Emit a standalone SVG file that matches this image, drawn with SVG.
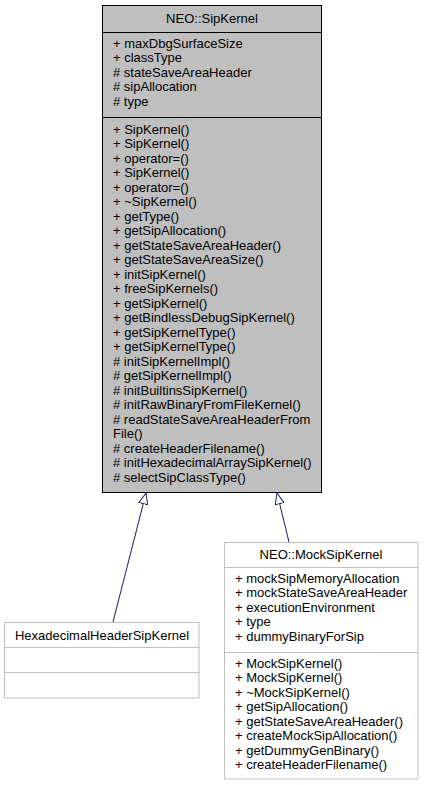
<svg xmlns="http://www.w3.org/2000/svg" width="424" height="785" viewBox="0 0 424 785">
<style>
text{font-family:"Liberation Sans",Arial,sans-serif;font-size:13px;fill:#000}
.c{text-anchor:middle}
.base rect{fill:#bfbfbf;stroke:#000;stroke-width:1}
.base line{stroke:#000;stroke-width:1}
.sub rect{fill:#fff;stroke:#bfbfbf;stroke-width:1}
.sub line{stroke:#bfbfbf;stroke-width:1}
.edge{stroke:#191970;stroke-width:1;fill:none}
</style>
<defs>
<marker id="inh" viewBox="0 0 12 10" refX="11.5" refY="5" markerWidth="12" markerHeight="10" markerUnits="userSpaceOnUse" orient="auto">
<path d="M0.5,0.5 L11.5,5 L0.5,9.5 Z" fill="#fff" stroke="#191970" stroke-width="1"/>
</marker>
</defs>
<rect width="424" height="785" fill="#fff"/>
<g id="connectors">
<line class="edge" x1="113" y1="622" x2="146" y2="493" marker-end="url(#inh)"/>
<line class="edge" x1="289" y1="542" x2="277" y2="493" marker-end="url(#inh)"/>
</g>
<g id="node-SipKernel" class="base">
<rect x="102.5" y="5.5" width="219" height="487"/>
<line x1="102.5" y1="32.5" x2="321.5" y2="32.5"/>
<line x1="102.5" y1="117.5" x2="321.5" y2="117.5"/>
<text class="c" x="212" y="23">NEO::SipKernel</text>
<text x="113" y="47.5">+ maxDbgSurfaceSize</text>
<text x="113" y="62">+ classType</text>
<text x="113" y="76.5"># stateSaveAreaHeader</text>
<text x="113" y="91"># sipAllocation</text>
<text x="113" y="105.5"># type</text>
<text x="113" y="133.5">+ SipKernel()</text>
<text x="113" y="148">+ SipKernel()</text>
<text x="113" y="162.5">+ operator=()</text>
<text x="113" y="177">+ SipKernel()</text>
<text x="113" y="191.5">+ operator=()</text>
<text x="113" y="206">+ ~SipKernel()</text>
<text x="113" y="220.5">+ getType()</text>
<text x="113" y="235">+ getSipAllocation()</text>
<text x="113" y="249.5">+ getStateSaveAreaHeader()</text>
<text x="113" y="264">+ getStateSaveAreaSize()</text>
<text x="113" y="278.5">+ initSipKernel()</text>
<text x="113" y="293">+ freeSipKernels()</text>
<text x="113" y="307.5">+ getSipKernel()</text>
<text x="113" y="322">+ getBindlessDebugSipKernel()</text>
<text x="113" y="336.5">+ getSipKernelType()</text>
<text x="113" y="351">+ getSipKernelType()</text>
<text x="113" y="365.5"># initSipKernelImpl()</text>
<text x="113" y="380"># getSipKernelImpl()</text>
<text x="113" y="394.5"># initBuiltinsSipKernel()</text>
<text x="113" y="409"># initRawBinaryFromFileKernel()</text>
<text x="113" y="423.5"># readStateSaveAreaHeaderFrom</text>
<text x="113" y="438">File()</text>
<text x="113" y="452.5"># createHeaderFilename()</text>
<text x="113" y="467"># initHexadecimalArraySipKernel()</text>
<text x="113" y="481.5"># selectSipClassType()</text>
</g>
<g id="node-HexadecimalHeaderSipKernel" class="sub">
<rect x="4.5" y="622.5" width="194.5" height="75.5"/>
<line x1="4.5" y1="647.5" x2="199" y2="647.5"/>
<line x1="4.5" y1="672.5" x2="199" y2="672.5"/>
<text class="c" x="102" y="639.5">HexadecimalHeaderSipKernel</text>
</g>
<g id="node-MockSipKernel" class="sub">
<rect x="224.5" y="542.5" width="193.5" height="236.5"/>
<line x1="224.5" y1="567.5" x2="418" y2="567.5"/>
<line x1="224.5" y1="652.5" x2="418" y2="652.5"/>
<text class="c" x="321" y="558.5">NEO::MockSipKernel</text>
<text x="235" y="582.5">+ mockSipMemoryAllocation</text>
<text x="235" y="597">+ mockStateSaveAreaHeader</text>
<text x="235" y="611.5">+ executionEnvironment</text>
<text x="235" y="626">+ type</text>
<text x="235" y="640.5">+ dummyBinaryForSip</text>
<text x="235" y="667.5">+ MockSipKernel()</text>
<text x="235" y="682">+ MockSipKernel()</text>
<text x="235" y="696.5">+ ~MockSipKernel()</text>
<text x="235" y="711">+ getSipAllocation()</text>
<text x="235" y="725.5">+ getStateSaveAreaHeader()</text>
<text x="235" y="740">+ createMockSipAllocation()</text>
<text x="235" y="754.5">+ getDummyGenBinary()</text>
<text x="235" y="769">+ createHeaderFilename()</text>
</g>
</svg>
